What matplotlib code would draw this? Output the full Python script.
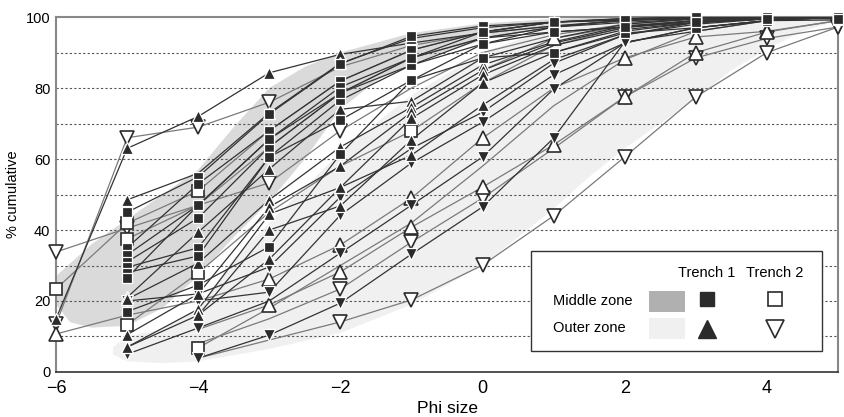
import numpy as np
import matplotlib
matplotlib.use("Agg")
import matplotlib.pyplot as plt
from matplotlib.patches import Rectangle, Polygon

plt.rcParams['font.family'] = ['Liberation Sans', 'DejaVu Sans']

PHI = [-6, -5, -4, -3, -2, -1, 0, 1, 2, 3, 4, 5]
N = None

# Middle zone, Trench 1 (filled squares)
middle_t1 = [
    [N, 45, 55, 72.7, 86.8, 94.6, 97.5, 98.6, 99.6, 100, 100, 100],
    [N, 35, 53, 68, 82, 90.7, 95.8, 98.6, 99.2, 99.8, 100, 100],
    [N, 33, 47, 65.6, 80.3, 88.5, 94.1, 97.2, 99.2, 99.6, 99.8, 100],
    [N, 31, 43.4, 63.4, 78.6, 86.5, 92.4, 97.2, 98.5, 99.5, 99.7, 99.8],
    [N, 29.5, 35, 60.6, 76.6, 86.5, 94.1, 95.8, 97.2, 99, 99.7, 99.6],
    [N, 28, 32.7, 60.6, 71, 82.2, 88.5, 90, 95.5, 97, 99, 99.2],
    [N, 26.5, 47, 65.6, 78.6, 88.5, 95.8, 98.6, 99.2, 100, 100, 100],
    [N, 17, 24.5, 35.3, 61.4, 82.2, 92.4, 95.8, 97.2, 98.5, 99.5, 99.6],
]
middle_t1_hidden = [[], [], [], [], [], [], [], []]

# Middle zone, Trench 2 (open squares)
middle_t2 = [
    [23.4, 41.9, 51, 68, 82, 90.7, 95.8, 98.6, 99.5, 100, 100, 100],
    [N, 37.5, 47, 63.4, 78.6, 88.5, 94.1, 97.2, 99.2, 99.8, 100, 100],
    [N, 13.3, 27.9, 45, 58, 67.9, 81.4, 92, 97.2, 99, 99.7, 100],
    [N, N, 6.8, 18, 30, 42, 58, 75, 88, 96, 99, 100],
]
middle_t2_hidden = [
    [-3, -2, -1, 0, 1, 2, 3, 4, 5],
    [-4, -3, -2, -1, 0, 1, 2, 3, 4, 5],
    [-3, -2, 0, 1, 2, 3, 4, 5],
    [-3, -2, -1, 0, 1, 2, 3, 4, 5],
]

# Outer zone, Trench 1 (filled up triangles)
outer_t1 = [
    [15, 63, 72, 84.3, 89.5, 92.7, 95.5, 97.5, 99, 99.7, 100, 100],
    [N, 48.5, 56, 73, 87, 94, 97, 98.6, 99.5, 100, 100, 100],
    [N, 21, 39.4, 57.2, 74, 76.3, 88.5, 94, 98, 99.5, 100, 100],
    [N, 20.5, 30.7, 48.5, 63.4, 74.6, 86.5, 93, 97.5, 99, 100, 100],
    [N, 10.5, 22, 46.5, 58, 73.2, 85, 92.7, 97, 99, 99.7, 100],
    [N, 7, 17.7, 44.5, 52, 71.5, 83.7, 92, 96.5, 98.5, 99.5, 100],
    [N, 7, 16, 40, 46.8, 65.4, 81.4, 90, 96, 98.5, 99.5, 100],
    [N, N, 16, 31.8, 52, 61.1, 75.2, 88, 95, 98, 99.5, 100],
]
outer_t1_hidden = [[2, 3, 4, 5], [-4, 2, 3, 4, 5], [1, 2, 3, 4, 5], [1, 2, 3, 4, 5],
                   [1, 2, 3, 4, 5], [1, 2, 3, 4, 5], [1, 2, 3, 4, 5], [1, 2, 3, 4, 5]]

# Outer zone, Trench 1 (filled down triangles)
outer_t1b = [
    [N, 20, 22, 29.6, 49.3, 63, 73.2, 87, 95, 98.5, 99.5, 100],
    [N, N, 20, 22.5, 44.2, 58.9, 70.4, 83.7, 92.7, 97, 99, 100],
    [N, 5, 12.4, 20, 33.5, 47, 60.6, 79.7, 92.7, 97, 99, 100],
    [N, N, 3.9, 10.4, 19.4, 33.2, 46.5, 65.9, 93, 96, 99, 100],
]
outer_t1b_hidden = [[3, 4, 5], [3, 4, 5], [-3, 2, 3, 4, 5], [3, 4, 5]]

# Outer zone, Trench 2 (open down triangles)
outer_t2 = [
    [13.5, 66, 69, 76, 86, 92, 95.5, 97.5, 99, 99.7, 100, 100],
    [33.8, 40.5, 47, 53.3, 68, 80, 90, 95, 98, 99.5, 100, 100],
    [N, N, 8, 15, 23.4, 36.6, 49, 63, 77.5, 88.5, 94, 97.2],
    [N, N, 3.9, 9, 14.1, 20.3, 30.1, 44, 60.6, 77.5, 90, 97.2],
]
outer_t2_hidden = [
    [-2, -1, 0, 1, 2, 3, 4, 5],
    [-4, -1, 0, 1, 2, 3, 4, 5],
    [-4, -3, 1],
    [-4, -3],
]

# Outer zone, Trench 2 (open up triangles)
outer_t2b = [
    [10.7, 16, 20, 26.2, 35.8, 49, 65.9, 80, 88.5, 94.4, 96, 99],
    [N, N, 12, 18.9, 28.2, 40.8, 52.1, 64, 77.5, 90, 95.8, 99],
    [N, N, N, N, N, N, 85, 94, 97.5, 99, 99.7, 100],
]
outer_t2b_hidden = [[-5, -4, 1, 5], [-4, 5], [0, 2, 3, 4, 5]]

# Zone outlines (x, y)
middle_upper = [(-6, 27), (-5.5, 36), (-5, 43), (-4.5, 50), (-4, 57), (-3.5, 69), (-3, 80),
                (-2.5, 86), (-2, 90), (-1, 95.5), (0, 98.2), (1, 99.5), (2, 100)]
middle_lower = [(2, 99.5), (1, 97.5), (0, 93.5), (-1, 87), (-1.5, 82), (-2, 74), (-2.5, 60),
                (-3, 48), (-3.5, 38), (-4, 27), (-4.5, 18), (-5, 13), (-5.5, 12.5), (-5.8, 14), (-6, 19)]
outer_upper = [(-5.2, 7), (-5, 10), (-4.5, 12), (-4, 18), (-3.5, 32), (-3, 42), (-2.5, 52),
               (-2, 62), (-1, 78), (0, 90), (1, 97), (2, 99.5), (3, 100), (5, 100)]
outer_lower = [(5, 99), (4.5, 96), (4, 91), (3.5, 85), (3, 77), (2.5, 70), (2, 63), (1.5, 55),
               (1, 46), (0.5, 38), (0, 30), (-1, 19), (-2, 11), (-3, 6.5), (-4, 3), (-4.5, 2.5),
               (-5, 3), (-5.2, 5)]

MID_COL = "#dadada"
MID_LEG = "#b0b0b0"
OUT_COL = "#f0f0f0"
DARK = "#2b2b2b"

fig = plt.figure(figsize=(8.45, 4.17), dpi=100)
ax = fig.add_axes([0.0663, 0.108, 0.9254, 0.851])
ax.set_xlim(-6, 5)
ax.set_ylim(0, 100)

ax.add_patch(Polygon(outer_upper + outer_lower, closed=True, fc=OUT_COL, ec="none", zorder=1))
ax.add_patch(Polygon(middle_upper + middle_lower, closed=True, fc=MID_COL, ec="none", zorder=1.1))

for yv in range(10, 100, 10):
    ax.axhline(yv, color="#555555", lw=0.8, ls=(0, (2, 2)), zorder=1.5)


def draw(group, hidden, marker, ms, filled, line_col):
    for s in group:
        xs = [x for x, v in zip(PHI, s) if v is not None]
        ys = [v for v in s if v is not None]
        ax.plot(xs, ys, color=line_col, lw=0.9, zorder=3)
    for s, hid in zip(group, hidden):
        xs = [x for x, v in zip(PHI, s) if v is not None and x not in hid]
        ys = [v for x, v in zip(PHI, s) if v is not None and x not in hid]
        if filled:
            ax.plot(xs, ys, ls="none", marker=marker, ms=ms, mfc=DARK, mec="white", mew=0.9,
                    zorder=5, clip_on=False)
        else:
            ax.plot(xs, ys, ls="none", marker=marker, ms=ms, mfc="white", mec=DARK, mew=1.2,
                    zorder=4, clip_on=False)


draw(outer_t2, outer_t2_hidden, "v", 10, False, "#7a7a7a")
draw(outer_t2b, outer_t2b_hidden, "^", 10, False, "#7a7a7a")
draw(middle_t2, middle_t2_hidden, "s", 8, False, "#7a7a7a")
draw(outer_t1b, outer_t1b_hidden, "v", 8, True, "#333333")
draw(outer_t1, outer_t1_hidden, "^", 8, True, "#333333")
draw(middle_t1, middle_t1_hidden, "s", 7, True, "#333333")

for side in ["left", "top", "right"]:
    ax.spines[side].set_color("#888888")
    ax.spines[side].set_linewidth(1.5)
ax.spines["bottom"].set_color("#333333")
ax.spines["bottom"].set_linewidth(1.2)

ax.set_xticks([-6, -4, -2, 0, 2, 4])
ax.set_yticks([0, 20, 40, 60, 80, 100])
ax.tick_params(axis="x", length=0, labelsize=13, pad=6)
ax.tick_params(axis="y", length=0, labelsize=10.5, pad=4)
ax.set_xlabel("Phi size", fontsize=12.5, labelpad=3)
ax.set_ylabel("% cumulative", fontsize=10.5, labelpad=4)


def px2data(px, py):
    x = -6 + (px - 56) / (838 - 56) * 11
    y = (372 - py) / 3.55
    return x, y


x0, y0 = px2data(531, 351)
x1, y1 = px2data(822, 251)
ax.add_patch(Rectangle((x0, y0), x1 - x0, y1 - y0, fc="white", ec="#333333", lw=1.0, zorder=10))
tx, ty = px2data(707, 273)
ax.text(tx, ty, "Trench 1", ha="center", va="center", fontsize=10.5, zorder=11)
tx, ty = px2data(775, 273)
ax.text(tx, ty, "Trench 2", ha="center", va="center", fontsize=10.5, zorder=11)
tx, ty = px2data(553, 301)
ax.text(tx, ty, "Middle zone", ha="left", va="center", fontsize=10.5, zorder=11)
tx, ty = px2data(553, 328)
ax.text(tx, ty, "Outer zone", ha="left", va="center", fontsize=10.5, zorder=11)
for (pyt, pyb, col) in [(291, 312, MID_LEG), (318, 339, OUT_COL)]:
    ax0, ay0 = px2data(649, pyb)
    ax1, ay1 = px2data(685, pyt)
    ax.add_patch(Rectangle((ax0, ay0), ax1 - ax0, ay1 - ay0, fc=col, ec="none", zorder=11))
mx, my = px2data(707, 299)
ax.plot([mx], [my], marker="s", ms=10, mfc=DARK, mec=DARK, ls="none", zorder=12)
mx, my = px2data(775, 299)
ax.plot([mx], [my], marker="s", ms=10, mfc="white", mec=DARK, mew=1.2, ls="none", zorder=12)
mx, my = px2data(707, 329)
ax.plot([mx], [my], marker="^", ms=13, mfc=DARK, mec=DARK, ls="none", zorder=12)
mx, my = px2data(775, 329)
ax.plot([mx], [my], marker="v", ms=13, mfc="white", mec=DARK, mew=1.2, ls="none", zorder=12)

fig.savefig("out.png", dpi=100)
